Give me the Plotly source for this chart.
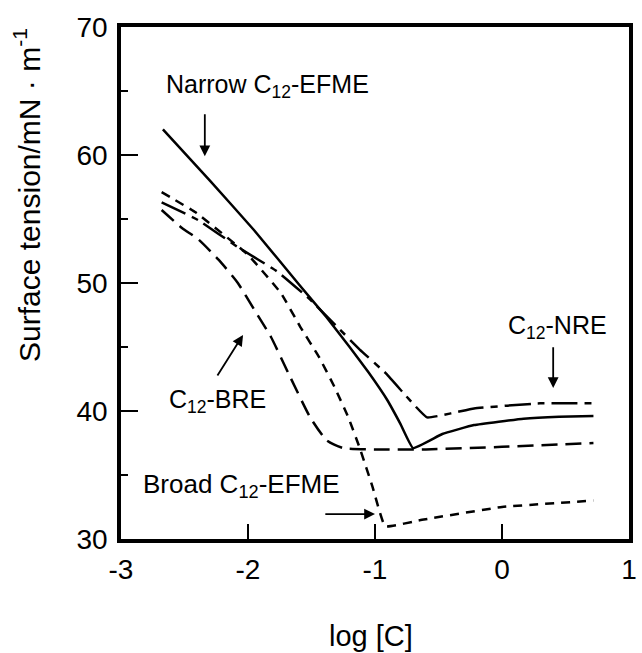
import plotly.graph_objects as go

# Narrow C12-EFME (solid)
narrow_x = [-2.67, -2.3, -1.95, -1.6, -1.38, -1.2, -1.05, -0.9, -0.8, -0.70, -0.47, -0.22, 0.17, 0.45, 0.72]
narrow_y = [62.0, 58.0, 54.1, 49.9, 47.3, 45.0, 43.0, 40.8, 39.0, 37.1, 38.2, 38.9, 39.4, 39.55, 39.6]

# C12-NRE (dash-dot)
nre_x = [-2.68, -2.39, -2.08, -1.77, -1.51, -1.30, -1.12, -0.91, -0.74, -0.59, -0.22, 0.3, 0.73]
nre_y = [56.3, 54.9, 52.8, 50.9, 48.7, 46.6, 44.8, 42.9, 41.0, 39.5, 40.2, 40.6, 40.6]

# C12-BRE (long dash)
bre_x = [-2.68, -2.52, -2.39, -2.23, -2.08, -1.95, -1.82, -1.67, -1.51, -1.38, -1.25, -1.0, -0.6, 0.0, 0.72]
bre_y = [55.7, 54.3, 53.4, 51.8, 50.0, 47.9, 45.8, 42.7, 39.5, 37.7, 37.1, 37.0, 37.0, 37.2, 37.5]

# Broad C12-EFME (short dash)
broad_x = [-2.68, -2.41, -2.0, -1.74, -1.59, -1.44, -1.32, -1.21, -1.12, -1.02, -0.92, -0.63, 0.0, 0.72]
broad_y = [57.1, 55.5, 52.2, 49.2, 46.6, 44.2, 41.9, 39.5, 37.1, 34.1, 31.0, 31.5, 32.5, 33.0]

x_ticks = [-3, -2, -1, 0, 1]
y_ticks = [30, 40, 50, 60, 70]

FONT = "Liberation Sans, Arial, Helvetica, sans-serif"

fig = go.Figure()
fig.add_trace(go.Scatter(x=narrow_x, y=narrow_y, mode="lines",
                         line=dict(color="black", width=2.5, shape="spline", smoothing=0.3)))
fig.add_trace(go.Scatter(x=nre_x, y=nre_y, mode="lines",
                         line=dict(color="black", width=2.5, dash="26px,7px,7px,7px", shape="spline", smoothing=0.3)))
fig.add_trace(go.Scatter(x=bre_x, y=bre_y, mode="lines",
                         line=dict(color="black", width=2.5, dash="16px,8px", shape="spline", smoothing=0.5)))
fig.add_trace(go.Scatter(x=broad_x, y=broad_y, mode="lines",
                         line=dict(color="black", width=2.5, dash="9px,7px", shape="spline", smoothing=0.3)))

ann = []
# texts
ann.append(dict(x=-2.66, y=65.4, xref="x", yref="y", text="Narrow C<sub>12</sub>-EFME",
                showarrow=False, xanchor="left", yanchor="middle", font=dict(size=25)))
ann.append(dict(x=0.03, y=46.6, xref="x", yref="y", text="C<sub>12</sub>-NRE",
                showarrow=False, xanchor="left", yanchor="middle", font=dict(size=25)))
ann.append(dict(x=-2.64, y=40.8, xref="x", yref="y", text="C<sub>12</sub>-BRE",
                showarrow=False, xanchor="left", yanchor="middle", font=dict(size=25)))
ann.append(dict(x=-2.84, y=34.2, xref="x", yref="y", text="Broad C<sub>12</sub>-EFME",
                showarrow=False, xanchor="left", yanchor="middle", font=dict(size=26)))
# arrows
arrows = [
    (-2.34, 59.9, -2.34, 63.3),
    (0.403, 41.8, 0.403, 45.1),
    (-2.039, 45.94, -2.248, 42.66),
    (-1.0, 31.95, -1.403, 31.95),
]
for (x, y, ax, ay) in arrows:
    ann.append(dict(x=x, y=y, ax=ax, ay=ay, xref="x", yref="y", axref="x", ayref="y",
                    text="", showarrow=True, arrowhead=2, arrowsize=1.2, arrowwidth=1.8,
                    arrowcolor="black"))
# axis titles
ann.append(dict(x=0.492, y=-0.189, xref="paper", yref="paper", text="log [C]",
                showarrow=False, xanchor="center", yanchor="middle", font=dict(size=29)))
ann.append(dict(x=-0.185, y=0.672, xref="paper", yref="paper",
                text="Surface tension/mN · m<sup>-1</sup>", textangle=-90,
                showarrow=False, xanchor="center", yanchor="middle", font=dict(size=30)))

fig.update_layout(
    width=642, height=653,
    margin=dict(l=121, r=5, t=27, b=114),
    plot_bgcolor="white", paper_bgcolor="white",
    showlegend=False,
    font=dict(family=FONT, color="black"),
    annotations=ann,
)
fig.update_xaxes(range=[-3, 1], tickvals=x_ticks, ticktext=[str(v) for v in x_ticks],
                 showgrid=False, zeroline=False, showline=True, linewidth=3.5, linecolor="black",
                 mirror=True, ticks="inside", ticklen=15, tickwidth=2, tickcolor="black",
                 tickfont=dict(size=28), ticklabelstandoff=3)
fig.update_yaxes(range=[30, 70], tickvals=y_ticks, ticktext=[str(v) for v in y_ticks],
                 showgrid=False, zeroline=False, showline=True, linewidth=3.5, linecolor="black",
                 mirror=True, ticks="inside", ticklen=17, tickwidth=2, tickcolor="black",
                 tickfont=dict(size=28), ticklabelstandoff=4,
                 minor=dict(dtick=5, tick0=30, ticks="inside", ticklen=7, tickwidth=2, tickcolor="black"))

fig.write_html("out.html")
